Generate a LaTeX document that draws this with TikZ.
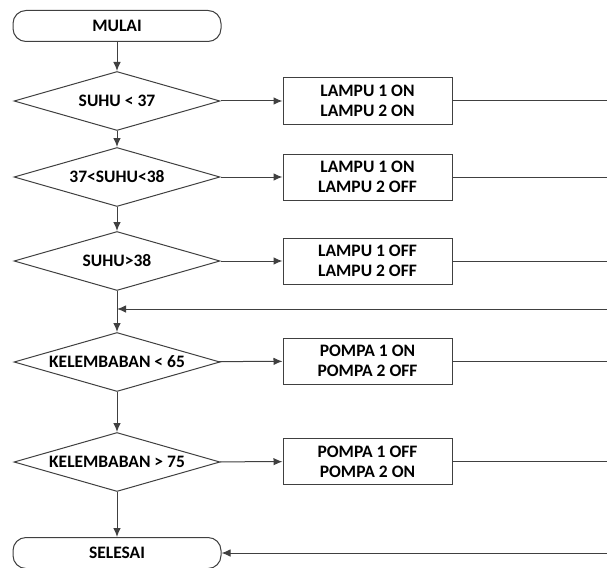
\documentclass[tikz,border=0pt]{standalone}
\usepackage{fontspec}
\setmainfont{Carlito}
\usetikzlibrary{shapes.geometric,arrows.meta}
\begin{document}
\begin{tikzpicture}[x=1pt,y=-1pt,
  every node/.style={font=\bfseries\fontsize{17.5}{20}\selectfont, text=black},
  ln/.style={draw=black!75, line width=1pt},
  arr/.style={ln, -{Latex[length=9pt,width=7.5pt]}},
  term/.style={ln, rectangle, rounded corners=13pt, minimum width=208pt, minimum height=31pt, inner sep=0pt},
  dec/.style={ln, diamond, aspect=3.5, minimum width=206pt, minimum height=59pt, inner sep=0pt},
  act/.style={ln, rectangle, minimum width=169pt, minimum height=46pt, inner sep=0pt, align=center}]
\useasboundingbox (0,0) rectangle (607,567);
\clip (0,0) rectangle (607,567);
\fill[white] (0,0) rectangle (607,567);
\node[term] (start) at (117,26) {MULAI};
\node[dec] (d1) at (117,101) {SUHU < 37};
\node[dec] (d2) at (117,177) {37<SUHU<38};
\node[dec] (d3) at (117,261) {SUHU>38};
\node[dec] (d4) at (117,362) {KELEMBABAN < 65};
\node[dec] (d5) at (117,462) {KELEMBABAN > 75};
\node[term] (stop) at (117,553) {SELESAI};
\node[act] (b1) at (367.5,101) {LAMPU 1 ON\\LAMPU 2 ON};
\node[act] (b2) at (367.5,177) {LAMPU 1 ON\\LAMPU 2 OFF};
\node[act] (b3) at (367.5,261) {LAMPU 1 OFF\\LAMPU 2 OFF};
\node[act] (b4) at (367.5,361) {POMPA 1 ON\\POMPA 2 OFF};
\node[act] (b5) at (367.5,461.5) {POMPA 1 OFF\\POMPA 2 ON};
\coordinate (e1) at (607,101);
\coordinate (e2) at (607,177);
\coordinate (e3) at (607,261);
\coordinate (ej) at (607,309);
\coordinate (e4) at (607,361);
\coordinate (e5) at (607,461.5);
\coordinate (e6) at (607,553);
\coordinate (j) at (117,309);
\draw[arr] (start) -- (d1);
\draw[arr] (d1) -- (d2);
\draw[arr] (d2) -- (d3);
\draw[arr] (d3) -- (d4);
\draw[arr] (d4) -- (d5);
\draw[arr] (d5) -- (stop);
\draw[arr] (d1) -- (b1);
\draw[arr] (d2) -- (b2);
\draw[arr] (d3) -- (b3);
\draw[arr] (d4) -- (b4);
\draw[arr] (d5) -- (b5);
\draw[ln] (b1) -- (e1);
\draw[ln] (b2) -- (e2);
\draw[ln] (b3) -- (e3);
\draw[ln] (b4) -- (e4);
\draw[ln] (b5) -- (e5);
\draw[arr] (ej) -- (j);
\draw[arr] (e6) -- (stop);
\end{tikzpicture}
\end{document}
